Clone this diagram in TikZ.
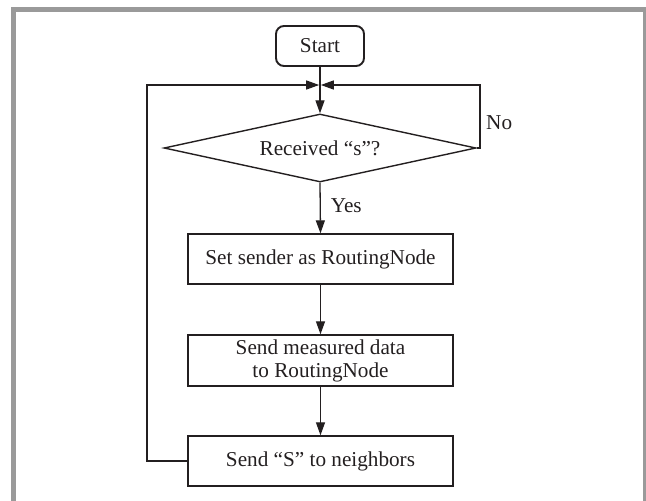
\documentclass[tikz,border=0pt]{standalone}
\usepackage{fontspec}
\setmainfont{Liberation Serif}
\usetikzlibrary{shapes.geometric,arrows.meta}
\definecolor{ink}{HTML}{231F20}
\definecolor{framegray}{HTML}{9A9A9A}
\begin{document}
\begin{tikzpicture}[x=1pt,y=1pt,
  every node/.style={font=\fontsize{21.2}{23}\selectfont, text=ink},
  startbox/.style={draw=ink, line width=1.9pt, rounded corners=8pt, minimum width=88pt, minimum height=40pt, inner sep=0pt},
  procbox/.style={draw=ink, line width=1.4pt, minimum width=265pt, minimum height=50pt, inner sep=0pt, align=center},
  decbox/.style={draw=ink, line width=1.4pt, diamond, shape aspect=4.6, minimum width=312pt, minimum height=68pt, inner sep=0pt},
  conn/.style={draw=ink, line width=1.3pt},
  arr/.style={conn, -{Triangle[length=13pt,width=9pt]}},
  lbl/.style={inner sep=0pt}
]
\useasboundingbox (0,0) rectangle (646,-501);
\draw[framegray, line width=5pt] (13.5,-510) -- (13.5,-9.5) -- (645.5,-9.5) -- (645.5,-510);

\node[startbox] (start) at (320,-46) {Start};
\node[decbox] (dec) at (320,-148) {Received “s”?};
\node[procbox] (b1) at (320.5,-259) {Set sender as RoutingNode};
\node[procbox, minimum height=51pt] (b2) at (320.5,-360.5) {Send measured data\\to RoutingNode};
\node[procbox] (b3) at (320.5,-461) {Send “S” to neighbors};

\coordinate (J) at (320,-85);
\coordinate (L) at (147,-461);
\coordinate (LT) at (147,-85);
\coordinate (R) at (480,-148);
\coordinate (RT) at (480,-85);

\draw[arr] (start.south) -- (dec.north);
\draw[arr] (dec.south) -- (b1.north) node[lbl, pos=0.45, anchor=west, xshift=10pt] (yes) {Yes};
\draw[arr] (b1.south) -- (b2.north);
\draw[arr] (b2.south) -- (b3.north);
\draw[arr, shorten >=0.8pt] (b3.west) -- (L) -- (LT) -- (J);
\draw[arr, shorten >=0.8pt] (dec.east) -- (R) -- (RT) -- (J);
\node[lbl, anchor=west] (no) at (486,-123) {No};
\end{tikzpicture}
\end{document}
